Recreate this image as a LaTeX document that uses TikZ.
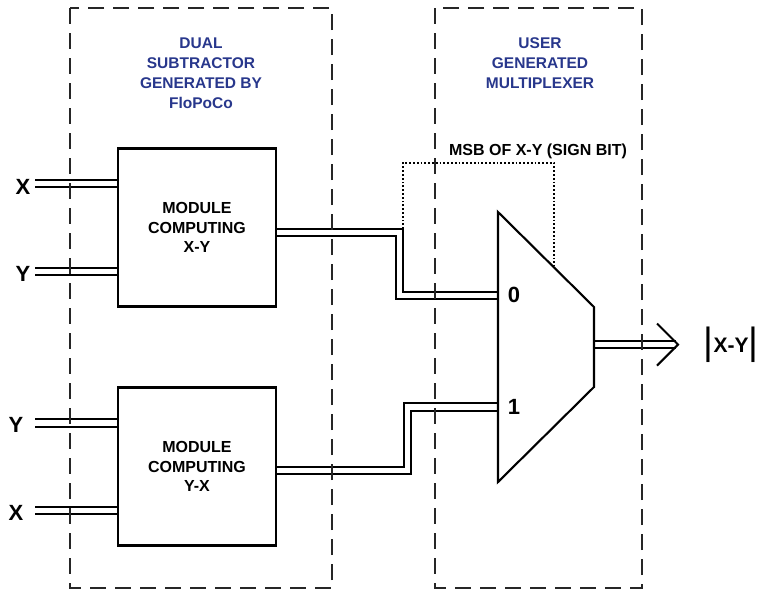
\documentclass[tikz,border=0pt]{standalone}
\usepackage{fontspec}
\setmainfont{Liberation Sans}
\definecolor{tblue}{RGB}{40,55,140}
\pgfdeclarelayer{bg}
\pgfsetlayers{bg,main}
\begin{document}
\begin{tikzpicture}[x=1pt,y=-1pt,line join=miter,
  wire/.style={double=white,double distance=5.4pt,line width=2.1pt},
  grp/.style={draw=black!85,line width=2pt,dash pattern=on 16pt off 9pt},
  modbox/.style={draw,line width=2.1pt,minimum width=158pt,minimum height=158pt,align=center,font=\bfseries\fontsize{16}{19.5}\selectfont,inner sep=0pt},
  title/.style={align=center,text=tblue,font=\bfseries\fontsize{15.5}{20}\selectfont,inner sep=0pt},
  io/.style={font=\bfseries\fontsize{22}{22}\selectfont,inner sep=0pt},
  dig/.style={font=\bfseries\fontsize{22}{22}\selectfont,inner sep=0pt},
  msbline/.style={line width=1.6pt,dash pattern=on 1.8pt off 2.0pt},
  muxline/.style={line width=2.1pt}]
\useasboundingbox (0,0) rectangle (763,590);
\begin{pgfonlayer}{bg}
\fill[white] (0,0) rectangle (763,590);
\end{pgfonlayer}

% modules
\node[modbox] (m1) at (197,227.5) {MODULE\\COMPUTING\\X-Y};
\node[modbox] (m2) at (197,466.5) {MODULE\\COMPUTING\\Y-X};

% multiplexer
\draw[muxline] (498,212) coordinate (mtl) -- (594,307) coordinate (mtr)
  -- (594,387) coordinate (mbr) -- (498,482) coordinate (mbl) -- cycle;
\coordinate (in0) at (498,295.5);
\coordinate (in1) at (498,407);
\coordinate (mout) at (594,344.5);
\coordinate (tip) at (678,344.5);

% input coordinates
\coordinate (ix1) at (35,183.5);
\coordinate (iy1) at (35,271.5);
\coordinate (iy2) at (35,423);
\coordinate (ix2) at (35,510.5);
\coordinate (o1) at ([yshift=-5pt]m1.east);
\coordinate (o2) at ([yshift=-4pt]m2.east);
\coordinate (k1) at (399.5,232.5);
\coordinate (k2) at (407.5,470.5);

\begin{pgfonlayer}{bg}
\draw[wire] (ix1) -- (ix1 -| m1.west);
\draw[wire] (iy1) -- (iy1 -| m1.west);
\draw[wire] (iy2) -- (iy2 -| m2.west);
\draw[wire] (ix2) -- (ix2 -| m2.west);
\draw[wire] (o1) -- (k1) |- (in0);
\draw[wire] (o2) -- (k2) |- (in1);
\draw[wire] (mout) -- ([xshift=-2pt]tip);
\end{pgfonlayer}

% output arrow head
\draw[muxline] ([xshift=-21pt,yshift=21pt]tip) -- (tip) -- ([xshift=-21pt,yshift=-21pt]tip);

% labels
\node[io] (lx1) at (23,187) {X};
\node[io] (ly1) at (23,274) {Y};
\node[io] (ly2) at (16,425) {Y};
\node[io] (lx2) at (16,513) {X};
\node[dig] (l0) at (514,295) {0};
\node[dig] (l1) at (514,407) {1};
\node[inner sep=0pt] (res) at (731,345) {{\mdseries\fontsize{38}{38}\selectfont\raisebox{-2.5pt}{|}}{\bfseries\fontsize{21}{21}\selectfont X-Y}{\mdseries\fontsize{38}{38}\selectfont\raisebox{-2.5pt}{|}}};

% group boxes
\draw[grp] (70,8) rectangle (332,588);
\draw[grp] (435,8) rectangle (642,588);
\node[title] (t1) at (201,73) {DUAL\\SUBTRACTOR\\GENERATED BY\\FloPoCo};
\node[title] (t2) at (540,63) {USER\\GENERATED\\MULTIPLEXER};

% sign bit
\node[inner sep=0pt,font=\bfseries\fontsize{16}{16}\selectfont] (msb) at (538,151) {MSB OF X-Y (SIGN BIT)};
\draw[msbline] (403,229) -- (403,163) -- (554,163) -- (554,266);
\end{tikzpicture}
\end{document}
